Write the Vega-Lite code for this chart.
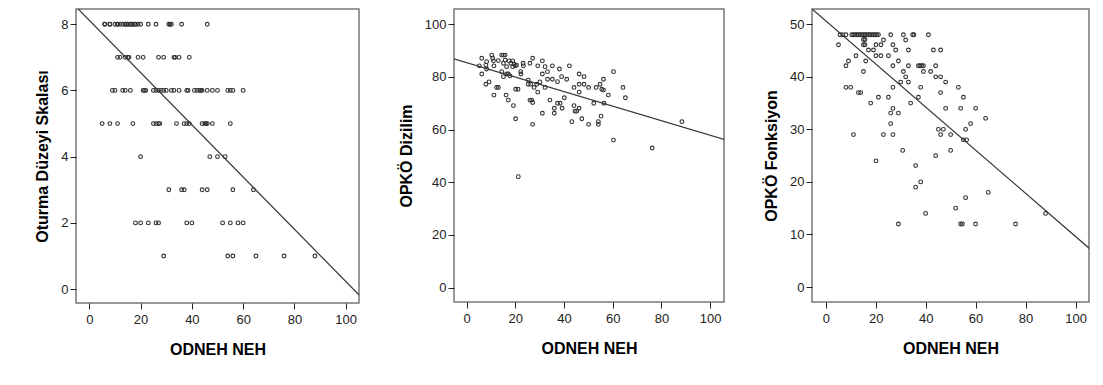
{
  "$schema": "https://vega.github.io/schema/vega-lite/v6.json",
  "autosize": {"type": "none"},
  "padding": {"left": 76, "top": 9, "right": 1027, "bottom": 376},
  "background": "white",
  "config": {
    "font": "Liberation Sans",
    "view": {"stroke": "#777777", "strokeWidth": 1.5},
    "axis": {
      "domain": false,
      "grid": false,
      "tickColor": "#222222",
      "tickSize": 6,
      "labelFont": "Liberation Sans",
      "labelFontSize": 13,
      "labelColor": "#222222",
      "labelPadding": 2,
      "titleFont": "Liberation Sans",
      "titleFontSize": 16,
      "titleFontWeight": "bold",
      "titleColor": "#000000"
    },
    "axisX": {"labelPadding": 4, "titlePadding": 15},
    "axisY": {"titlePadding": 10}
  },
  "datasets": {
    "p1": [
      {"x":6,"y":8},{"x":6,"y":8},{"x":8,"y":8},{"x":8,"y":8},{"x":10,"y":8},{"x":11,"y":8},{"x":11,"y":8},{"x":12,"y":8},{"x":13,"y":8},{"x":14,"y":8},{"x":14,"y":8},{"x":15,"y":8},{"x":15,"y":8},{"x":16,"y":8},{"x":16,"y":8},{"x":17,"y":8},{"x":17,"y":8},{"x":18,"y":8},{"x":18,"y":8},{"x":19,"y":8},{"x":20,"y":8},{"x":23,"y":8},{"x":26,"y":8},{"x":31,"y":8},{"x":31.5,"y":8},{"x":32,"y":8},{"x":36,"y":8},{"x":46,"y":8},
      {"x":11,"y":7},{"x":12,"y":7},{"x":14,"y":7},{"x":15,"y":7},{"x":15.5,"y":7},{"x":19,"y":7},{"x":21,"y":7},{"x":27,"y":7},{"x":29,"y":7},{"x":33,"y":7},{"x":33.5,"y":7},{"x":35,"y":7},{"x":39,"y":7},
      {"x":9,"y":6},{"x":10,"y":6},{"x":13,"y":6},{"x":14,"y":6},{"x":16,"y":6},{"x":21,"y":6},{"x":21.5,"y":6},{"x":22,"y":6},{"x":25,"y":6},{"x":26,"y":6},{"x":27,"y":6},{"x":28,"y":6},{"x":29,"y":6},{"x":30,"y":6},{"x":32,"y":6},{"x":33,"y":6},{"x":35,"y":6},{"x":38,"y":6},{"x":38.5,"y":6},{"x":41,"y":6},{"x":42,"y":6},{"x":43,"y":6},{"x":43.5,"y":6},{"x":44,"y":6},{"x":46,"y":6},{"x":48,"y":6},{"x":50,"y":6},{"x":54,"y":6},{"x":55,"y":6},{"x":56,"y":6},{"x":60,"y":6},
      {"x":5,"y":5},{"x":8,"y":5},{"x":11,"y":5},{"x":17,"y":5},{"x":25,"y":5},{"x":26,"y":5},{"x":27,"y":5},{"x":27.5,"y":5},{"x":34,"y":5},{"x":37,"y":5},{"x":38,"y":5},{"x":39,"y":5},{"x":44,"y":5},{"x":45,"y":5},{"x":45.5,"y":5},{"x":46,"y":5},{"x":48,"y":5},{"x":55,"y":5},
      {"x":20,"y":4},{"x":47,"y":4},{"x":50,"y":4},{"x":53,"y":4},
      {"x":31,"y":3},{"x":36,"y":3},{"x":37,"y":3},{"x":44,"y":3},{"x":46,"y":3},{"x":56,"y":3},{"x":64,"y":3},
      {"x":18,"y":2},{"x":20,"y":2},{"x":23,"y":2},{"x":26,"y":2},{"x":27,"y":2},{"x":38,"y":2},{"x":40,"y":2},{"x":52,"y":2},{"x":55,"y":2},{"x":58,"y":2},{"x":60,"y":2},
      {"x":29,"y":1},{"x":54,"y":1},{"x":56,"y":1},{"x":65,"y":1},{"x":76,"y":1},{"x":88,"y":1}
    ],
    "f1": [{"x":-6,"y":8.59},{"x":106,"y":-0.24}],
    "p2": [
      {"x":5.2,"y":84.2},{"x":6.2,"y":87.1},{"x":6.2,"y":81.1},{"x":8.2,"y":85.8},{"x":7.9,"y":84.5},{"x":8.2,"y":83},{"x":7.9,"y":77.2},{"x":9.2,"y":78.1},{"x":10.3,"y":88.3},{"x":10.7,"y":87.1},{"x":11,"y":86.1},{"x":11.2,"y":84.2},{"x":11.2,"y":73.1},{"x":12.3,"y":76},{"x":13,"y":76},{"x":13,"y":86.2},{"x":14.4,"y":88.3},{"x":15.1,"y":88.3},{"x":15.8,"y":88.3},{"x":14.4,"y":82},{"x":15.1,"y":85.2},{"x":15.8,"y":86.4},{"x":15.1,"y":80.1},{"x":16.2,"y":73.1},{"x":16.4,"y":81.1},{"x":17.1,"y":81.1},{"x":16.4,"y":83.9},{"x":17.1,"y":71.2},{"x":17.4,"y":86.1},{"x":17.8,"y":80.4},{"x":18.2,"y":85.2},{"x":18.9,"y":86.1},{"x":18.9,"y":83.9},{"x":19.5,"y":84.8},{"x":20,"y":84.2},{"x":20.5,"y":84.5},{"x":19.2,"y":69.1},{"x":20.1,"y":75.3},{"x":21.1,"y":75.3},{"x":20.1,"y":64.1},{"x":21.2,"y":42.1},{"x":22.2,"y":82},{"x":22.3,"y":81.1},{"x":23.2,"y":85.2},{"x":23.3,"y":84.2},{"x":25.3,"y":78.8},{"x":25.3,"y":77.2},{"x":26,"y":85.2},{"x":26.3,"y":77.2},{"x":26,"y":71.2},{"x":26.7,"y":71.2},{"x":27.1,"y":87.1},{"x":27.1,"y":70.3},{"x":27.1,"y":62},{"x":27.7,"y":76},{"x":28.8,"y":77.2},{"x":29.2,"y":84.2},{"x":29.2,"y":74.2},{"x":30.1,"y":78.1},{"x":31.1,"y":86.1},{"x":31.1,"y":81.1},{"x":31.1,"y":66.2},{"x":32.2,"y":83.9},{"x":32.2,"y":76},{"x":33.2,"y":82},{"x":33.2,"y":79.1},{"x":34.2,"y":71.2},{"x":35.2,"y":84.2},{"x":35.2,"y":79.1},{"x":36,"y":68.1},{"x":36,"y":66.2},{"x":37.3,"y":78.2},{"x":37.3,"y":70},{"x":38.4,"y":70},{"x":38.1,"y":83},{"x":39,"y":80.1},{"x":39.2,"y":68.1},{"x":40.1,"y":72.1},{"x":41.1,"y":79.1},{"x":42.2,"y":84.2},{"x":43.2,"y":63},{"x":44.1,"y":76},{"x":44.1,"y":69.1},{"x":44.5,"y":67},{"x":45.2,"y":67},{"x":46.2,"y":81.1},{"x":46.2,"y":77.2},{"x":46.2,"y":74.2},{"x":46.2,"y":68.1},{"x":47.3,"y":64.1},{"x":48.2,"y":80.1},{"x":48.2,"y":77.2},{"x":50.1,"y":76},{"x":50.1,"y":62},{"x":52.2,"y":70},{"x":53.2,"y":76},{"x":54.1,"y":63},{"x":54.1,"y":62},{"x":54.8,"y":77.2},{"x":55.2,"y":65.1},{"x":55.5,"y":75.3},{"x":56.2,"y":75},{"x":56.2,"y":79.1},{"x":56.4,"y":70},{"x":58.2,"y":73.1},{"x":60.3,"y":82},{"x":60.3,"y":56},{"x":64.2,"y":76},{"x":65.2,"y":72.1},{"x":76.2,"y":53},{"x":88.4,"y":63}
    ],
    "f2": [{"x":-6,"y":87.1},{"x":106,"y":56.2}],
    "p3": [
      {"x":5.7,"y":48},{"x":6.8,"y":48},{"x":8.1,"y":48},{"x":10.4,"y":48},{"x":11.1,"y":48},{"x":11.7,"y":48},{"x":12.4,"y":48},{"x":13.1,"y":48},{"x":13.7,"y":48},{"x":14.4,"y":48},{"x":15.1,"y":48},{"x":15.7,"y":48},{"x":16.4,"y":48},{"x":17.1,"y":48},{"x":17.7,"y":48},{"x":18.4,"y":48},{"x":19.1,"y":48},{"x":19.7,"y":48},{"x":20.4,"y":48},{"x":21.1,"y":48},{"x":26,"y":48},{"x":31.1,"y":48},{"x":34.8,"y":48},{"x":35.3,"y":48},{"x":41.1,"y":48},
      {"x":5.1,"y":46.1},{"x":8.1,"y":42.1},{"x":9.1,"y":43},{"x":8.1,"y":38},{"x":10,"y":38},{"x":11.1,"y":29},{"x":12.1,"y":44},{"x":13.1,"y":37},{"x":14,"y":37},{"x":15.1,"y":41},{"x":15.1,"y":47.1},{"x":15.7,"y":47.1},{"x":15.1,"y":46.1},{"x":15.7,"y":46.1},{"x":16,"y":43},{"x":17.1,"y":45.1},{"x":18,"y":35},{"x":19.1,"y":45.1},{"x":20.1,"y":46.1},{"x":20.1,"y":44},{"x":20.1,"y":24},{"x":21.1,"y":36.1},{"x":22.1,"y":46.1},{"x":22.1,"y":44},{"x":23.1,"y":47},{"x":23.1,"y":29},{"x":25.1,"y":44},{"x":25.1,"y":36.1},{"x":26,"y":33.1},{"x":26,"y":31.1},{"x":26.9,"y":46.1},{"x":26.9,"y":42.1},{"x":26.9,"y":38},{"x":26.9,"y":34},{"x":26.9,"y":29},{"x":28,"y":45.1},{"x":29.1,"y":43},{"x":29.1,"y":33.1},{"x":29.1,"y":12},{"x":30,"y":39},{"x":30.8,"y":26},{"x":31.1,"y":41},{"x":32,"y":47},{"x":32,"y":40},{"x":33.1,"y":45.1},{"x":33.1,"y":42.1},{"x":33.1,"y":39},{"x":34,"y":35},{"x":36,"y":23.1},{"x":36,"y":19},{"x":37.1,"y":36.1},{"x":37.1,"y":42.1},{"x":37.7,"y":42.1},{"x":38.4,"y":42.1},{"x":39.1,"y":42.1},{"x":39.1,"y":41},{"x":38,"y":38},{"x":38,"y":20},{"x":40,"y":14},{"x":42,"y":41},{"x":43.1,"y":45.1},{"x":44,"y":25},{"x":44,"y":42.1},{"x":44,"y":40},{"x":45.1,"y":30},{"x":46,"y":45.1},{"x":46,"y":40},{"x":46,"y":37},{"x":46,"y":29},{"x":47.1,"y":30},{"x":48,"y":39},{"x":48,"y":34},{"x":50,"y":29},{"x":50,"y":26},{"x":52,"y":15},{"x":53.1,"y":38},{"x":54,"y":34},{"x":54,"y":12},{"x":54.7,"y":12},{"x":55.1,"y":36.1},{"x":55.1,"y":28},{"x":56,"y":30},{"x":56,"y":17},{"x":56.4,"y":28},{"x":58,"y":31.1},{"x":60,"y":34},{"x":60,"y":12},{"x":64,"y":32.1},{"x":65.1,"y":18},{"x":76,"y":12},{"x":88,"y":14}
    ],
    "f3": [{"x":-6,"y":53.11},{"x":106,"y":7.16}]
  },
  "spacing": 95,
  "bounds": "flush",
  "hconcat": [
    {
      "width": 283, "height": 294,
      "layer": [
        {
          "data": {"name": "p1"},
          "mark": {"type": "point", "shape": "circle", "filled": false, "size": 14, "stroke": "#333333", "strokeWidth": 1.1, "opacity": 1},
          "encoding": {
            "x": {"field": "x", "type": "quantitative", "title": "ODNEH NEH", "scale": {"domain": [-5.2, 105.2], "nice": false, "zero": false}, "axis": {"values": [0, 20, 40, 60, 80, 100]}},
            "y": {"field": "y", "type": "quantitative", "title": "Oturma Düzeyi Skalası", "scale": {"domain": [-0.42, 8.46], "nice": false, "zero": false}, "axis": {"values": [0, 2, 4, 6, 8]}}
          }
        },
        {
          "data": {"name": "f1"},
          "mark": {"type": "line", "clip": true, "stroke": "#333333", "strokeWidth": 1.2},
          "encoding": {
            "x": {"field": "x", "type": "quantitative", "title": "ODNEH NEH"},
            "y": {"field": "y", "type": "quantitative", "title": "Oturma Düzeyi Skalası"}
          }
        }
      ]
    },
    {
      "spacing": 88,
      "bounds": "flush",
      "hconcat": [
        {
          "width": 270, "height": 293,
          "layer": [
            {
              "data": {"name": "p2"},
              "mark": {"type": "point", "shape": "circle", "filled": false, "size": 14, "stroke": "#333333", "strokeWidth": 1.1, "opacity": 1},
              "encoding": {
                "x": {"field": "x", "type": "quantitative", "title": "ODNEH NEH", "scale": {"domain": [-5.2, 105.7], "nice": false, "zero": false}, "axis": {"values": [0, 20, 40, 60, 80, 100]}},
                "y": {"field": "y", "type": "quantitative", "title": "OPKÖ Dizilim", "scale": {"domain": [-5.5, 105.8], "nice": false, "zero": false}, "axis": {"values": [0, 20, 40, 60, 80, 100]}}
              }
            },
            {
              "data": {"name": "f2"},
              "mark": {"type": "line", "clip": true, "stroke": "#333333", "strokeWidth": 1.2},
              "encoding": {
                "x": {"field": "x", "type": "quantitative", "title": "ODNEH NEH"},
                "y": {"field": "y", "type": "quantitative", "title": "OPKÖ Dizilim"}
              }
            }
          ]
        },
        {
          "width": 277, "height": 293,
          "layer": [
            {
              "data": {"name": "p3"},
              "mark": {"type": "point", "shape": "circle", "filled": false, "size": 14, "stroke": "#333333", "strokeWidth": 1.1, "opacity": 1},
              "encoding": {
                "x": {"field": "x", "type": "quantitative", "title": "ODNEH NEH", "scale": {"domain": [-5.5, 105.4], "nice": false, "zero": false}, "axis": {"values": [0, 20, 40, 60, 80, 100]}},
                "y": {"field": "y", "type": "quantitative", "title": "OPKÖ Fonksiyon", "scale": {"domain": [-2.85, 52.9], "nice": false, "zero": false}, "axis": {"values": [0, 10, 20, 30, 40, 50]}}
              }
            },
            {
              "data": {"name": "f3"},
              "mark": {"type": "line", "clip": true, "stroke": "#333333", "strokeWidth": 1.2},
              "encoding": {
                "x": {"field": "x", "type": "quantitative", "title": "ODNEH NEH"},
                "y": {"field": "y", "type": "quantitative", "title": "OPKÖ Fonksiyon"}
              }
            }
          ]
        }
      ]
    }
  ]
}
